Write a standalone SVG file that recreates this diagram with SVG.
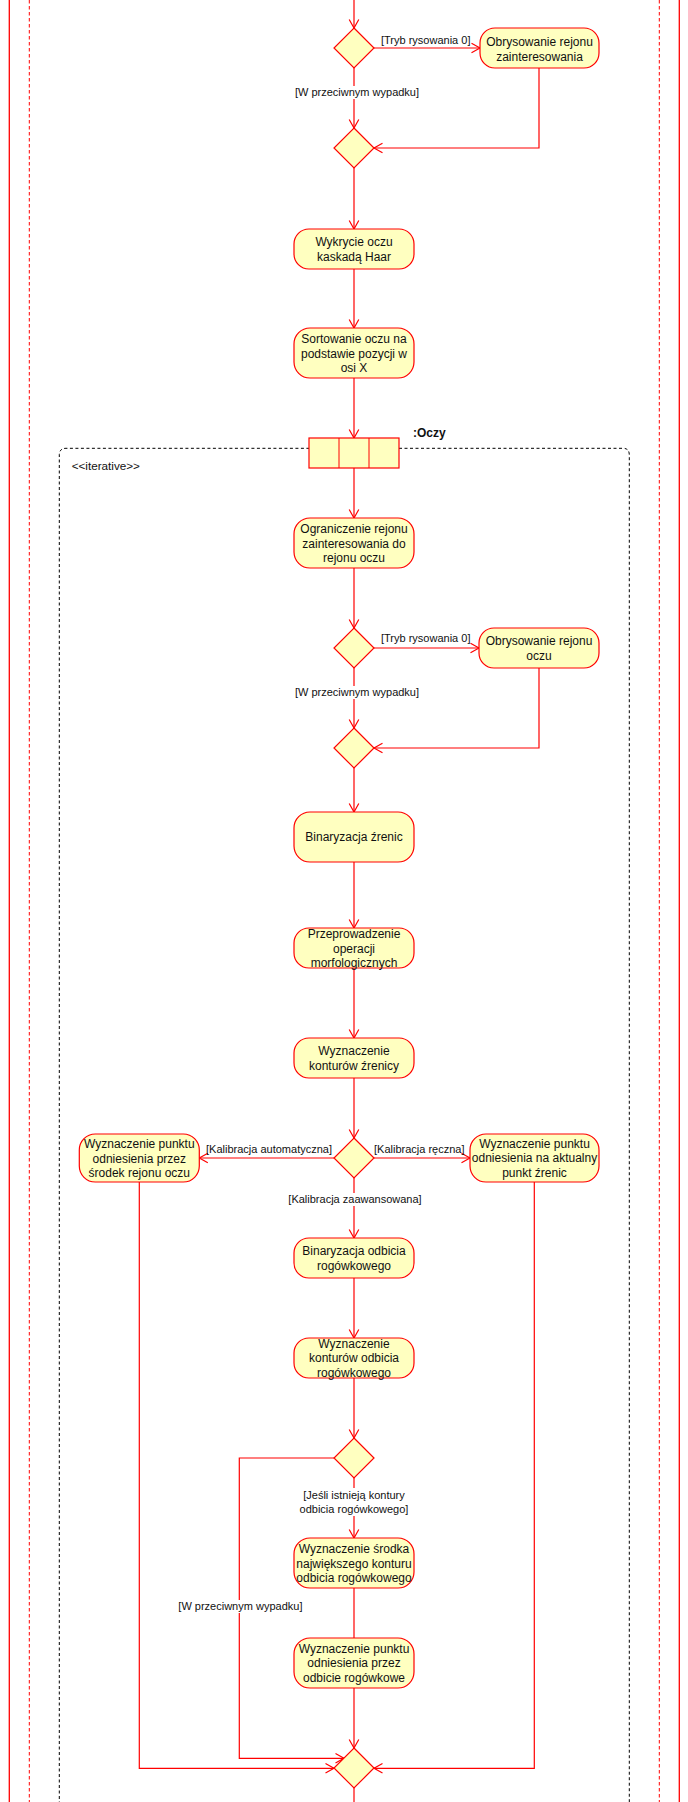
<svg xmlns="http://www.w3.org/2000/svg" width="688" height="1802" viewBox="0 0 688 1802">
<style>
.n{fill:#ffffc0;stroke:#ff0000;stroke-width:1.2}
.t{font-family:"Liberation Sans",Arial,sans-serif;font-size:12px;fill:#111;text-anchor:middle}
.l{font-family:"Liberation Sans",Arial,sans-serif;font-size:11px;fill:#111}
.c{fill:none;stroke:#ff0000;stroke-width:1.2}
.a{marker-end:url(#ar)}
.bg{fill:#ffffff}
</style>
<defs>
<marker id="ar" markerUnits="userSpaceOnUse" markerWidth="12" markerHeight="12" viewBox="-10 -6 12 12" refX="0" refY="0" orient="auto">
<path d="M-8.5,-4.8 L0,0 L-8.5,4.8" fill="none" stroke="#ff0000" stroke-width="1.2"/>
</marker>
</defs>
<rect width="688" height="1802" fill="#ffffff"/>
<g id="frame">
<line x1="9.3" y1="0" x2="9.3" y2="1802" stroke="#ff0000" stroke-width="1.3"/>
<line x1="679.3" y1="0" x2="679.3" y2="1802" stroke="#ff0000" stroke-width="1.3"/>
<line x1="29.3" y1="0" x2="29.3" y2="1802" stroke="#ff0000" stroke-width="1" stroke-dasharray="3.5,2.5"/>
<line x1="659.3" y1="0" x2="659.3" y2="1802" stroke="#ff0000" stroke-width="1" stroke-dasharray="3.5,2.5"/>
</g>
<g id="region">
<path d="M59.3,1810 V455 Q59.3,448.3 66,448.3 H309 M399,448.3 H623 Q629.3,448.3 629.3,455 V1810" fill="none" stroke="#000" stroke-width="1" stroke-dasharray="3,2.5"/>
<text class="l" x="71.7" y="469.5" style="font-size:11.7px">&lt;&lt;iterative&gt;&gt;</text>
</g>
<g id="connectors">
<path class="c a" d="M354,0 V28"/>
<path class="c a" d="M374,48 H480"/>
<path class="c a" d="M354,68 V128"/>
<path class="c a" d="M539,68 V148 H374"/>
<path class="c a" d="M354,168 V229"/>
<path class="c a" d="M354,269 V328"/>
<path class="c a" d="M354,378 V438"/>
<path class="c a" d="M354,468 V518"/>
<path class="c a" d="M354,568 V628"/>
<path class="c a" d="M374,648 H479"/>
<path class="c a" d="M354,668 V728"/>
<path class="c a" d="M539,668 V748 H374"/>
<path class="c a" d="M354,768 V812"/>
<path class="c a" d="M354,862 V928"/>
<path class="c a" d="M354,968 V1038"/>
<path class="c a" d="M354,1078 V1138"/>
<path class="c a" d="M334,1158 H199.3"/>
<path class="c a" d="M374,1158 H470"/>
<path class="c a" d="M354,1178 V1238"/>
<path class="c a" d="M354,1278 V1338"/>
<path class="c a" d="M354,1378 V1438"/>
<path class="c a" d="M354,1478 V1538"/>
<path class="c a" d="M334,1458 H239.3 V1758.3 H344"/>
<path class="c" d="M354,1588 V1638"/>
<path class="c a" d="M354,1688 V1748"/>
<path class="c a" d="M139.3,1182 V1768.3 H334"/>
<path class="c a" d="M534.3,1182 V1768.3 H374"/>
<path class="c" d="M354,1788 V1802"/>
</g>
<g id="labels">
<text class="l" x="381" y="44">[Tryb rysowania 0]</text>
<rect class="bg" x="295" y="86" width="125" height="13"/>
<text class="l" x="357" y="96" text-anchor="middle">[W przeciwnym wypadku]</text>
<text class="l" x="381" y="642">[Tryb rysowania 0]</text>
<rect class="bg" x="295" y="686" width="125" height="13"/>
<text class="l" x="357" y="696" text-anchor="middle">[W przeciwnym wypadku]</text>
<text class="l" x="332" y="1153" text-anchor="end">[Kalibracja automatyczna]</text>
<text class="l" x="374" y="1153">[Kalibracja ręczna]</text>
<rect class="bg" x="289" y="1193" width="132" height="13"/>
<text class="l" x="355" y="1203" text-anchor="middle">[Kalibracja zaawansowana]</text>
<rect class="bg" x="300" y="1488" width="109" height="28"/>
<text class="l" x="354" y="1499" text-anchor="middle">[Jeśli istnieją kontury</text>
<text class="l" x="354" y="1513.3" text-anchor="middle">odbicia rogówkowego]</text>
<rect class="bg" x="178" y="1600" width="125" height="13"/>
<text class="l" x="240.4" y="1610" text-anchor="middle">[W przeciwnym wypadku]</text>
</g>
<g id="d1"><path class="n" d="M354,28 L374,48 L354,68 L334,48 Z"/></g>
<g id="b1"><rect class="n" x="480" y="28" width="119" height="40" rx="15"/>
<text class="t" x="539.5" y="46">Obrysowanie rejonu</text><text class="t" x="539.5" y="60.5">zainteresowania</text></g>
<g id="d2"><path class="n" d="M354,128 L374,148 L354,168 L334,148 Z"/></g>
<g id="b2"><rect class="n" x="294" y="229" width="120" height="40" rx="15"/>
<text class="t" x="354" y="246.3">Wykrycie oczu</text><text class="t" x="354" y="261">kaskadą Haar</text></g>
<g id="b3"><rect class="n" x="294" y="328" width="120" height="50" rx="16"/>
<text class="t" x="354" y="343">Sortowanie oczu na</text><text class="t" x="354" y="357.5">podstawie pozycji w</text><text class="t" x="354" y="372">osi X</text></g>
<g id="fork"><rect x="309" y="438" width="90" height="30" fill="#ffffc0" stroke="#ff0000" stroke-width="1.2"/>
<line x1="339" y1="438" x2="339" y2="468" stroke="#ff0000" stroke-width="1"/>
<line x1="369" y1="438" x2="369" y2="468" stroke="#ff0000" stroke-width="1"/>
<text x="413" y="437" style="font-family:'Liberation Sans',Arial,sans-serif;font-size:12px;font-weight:bold;fill:#111">:Oczy</text></g>
<g id="b4"><rect class="n" x="294" y="518" width="120" height="50" rx="16"/>
<text class="t" x="354" y="533.3">Ograniczenie rejonu</text><text class="t" x="354" y="547.6">zainteresowania do</text><text class="t" x="354" y="562">rejonu oczu</text></g>
<g id="d3"><path class="n" d="M354,628 L374,648 L354,668 L334,648 Z"/></g>
<g id="b5"><rect class="n" x="479" y="628" width="120" height="40" rx="15"/>
<text class="t" x="539" y="645.3">Obrysowanie rejonu</text><text class="t" x="539" y="660">oczu</text></g>
<g id="d4"><path class="n" d="M354,728 L374,748 L354,768 L334,748 Z"/></g>
<g id="b6"><rect class="n" x="294" y="812" width="120" height="50" rx="16"/>
<text class="t" x="354" y="841">Binaryzacja źrenic</text></g>
<g id="b7"><rect class="n" x="294" y="928" width="120" height="40" rx="15"/>
<text class="t" x="354" y="937.6">Przeprowadzenie</text><text class="t" x="354" y="952.6">operacji</text><text class="t" x="354" y="967">morfologicznych</text></g>
<g id="b8"><rect class="n" x="294" y="1038" width="120" height="40" rx="15"/>
<text class="t" x="354" y="1055">Wyznaczenie</text><text class="t" x="354" y="1069.6">konturów źrenicy</text></g>
<g id="d5"><path class="n" d="M354,1138 L374,1158 L354,1178 L334,1158 Z"/></g>
<g id="b9"><rect class="n" x="79.3" y="1134" width="120" height="48" rx="16"/>
<text class="t" x="139.3" y="1147.6">Wyznaczenie punktu</text><text class="t" x="139.3" y="1162.6">odniesienia przez</text><text class="t" x="139.3" y="1176.6">środek rejonu oczu</text></g>
<g id="b10"><rect class="n" x="470" y="1134" width="129" height="48" rx="16"/>
<text class="t" x="534.5" y="1147.6">Wyznaczenie punktu</text><text class="t" x="534.5" y="1162">odniesienia na aktualny</text><text class="t" x="534.5" y="1176.6">punkt źrenic</text></g>
<g id="b11"><rect class="n" x="294" y="1238" width="120" height="40" rx="15"/>
<text class="t" x="354" y="1255">Binaryzacja odbicia</text><text class="t" x="354" y="1270">rogówkowego</text></g>
<g id="b12"><rect class="n" x="294" y="1338" width="120" height="40" rx="15"/>
<text class="t" x="354" y="1348.3">Wyznaczenie</text><text class="t" x="354" y="1362">konturów odbicia</text><text class="t" x="354" y="1377">rogówkowego</text></g>
<g id="d6"><path class="n" d="M354,1438 L374,1458 L354,1478 L334,1458 Z"/></g>
<g id="b13"><rect class="n" x="294" y="1538" width="120" height="50" rx="16"/>
<text class="t" x="354" y="1553.3">Wyznaczenie środka</text><text class="t" x="354" y="1567.6">największego konturu</text><text class="t" x="354" y="1581.6">odbicia rogówkowego</text></g>
<g id="b14"><rect class="n" x="294" y="1638" width="120" height="50" rx="16"/>
<text class="t" x="354" y="1653.3">Wyznaczenie punktu</text><text class="t" x="354" y="1667">odniesienia przez</text><text class="t" x="354" y="1681.6">odbicie rogówkowe</text></g>
<g id="d7"><path class="n" d="M354,1748 L374,1768 L354,1788 L334,1768 Z"/></g>
</svg>
